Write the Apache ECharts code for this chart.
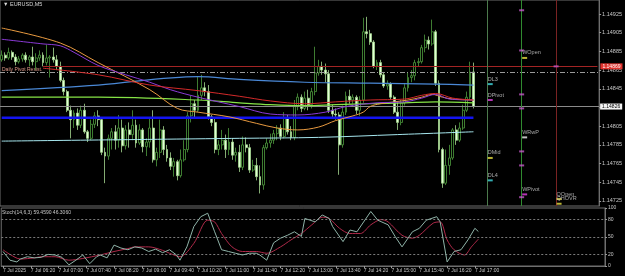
<!DOCTYPE html>
<html><head><meta charset="utf-8">
<script src="https://cdn.jsdelivr.net/npm/echarts@6/dist/echarts.min.js"></script>
<style>html,body{margin:0;padding:0;background:#000;}#c{width:625px;height:276px;}</style>
</head><body><div id="c"></div>
<script>
// ---------- data ----------
const symbolTitle = '\u25BC EURUSD,M5';
const dateLabel = '7 Jul 2025';
const firstBarMinutes = 5 * 60 + 40;   // 05:40
const barMinutes = 5;
const slotCount = 174;                 // bars + empty shift area
const priceTicks = [1.14725,1.14745,1.14765,1.14785,1.14805,1.14825,1.14845,1.14865,1.14885,1.14905,1.14925];
const stochTicks = [0,20,50,80,100];
const stochLevels = [20,50,80];
const stochTitle = 'Stoch(14,6,3) 59.4590 46.3060';
const bidPrice = 1.14826;
const linePrice = 1.14869;  const lineStartBar = 12;
const dashPrice = 1.14863;
const leftLineLabel = 'Daily Pivot Resist.';

// [open, close, low, high]
const candles = [
[1.14876,1.14881,1.14874,1.14886],[1.14881,1.14878,1.14875,1.14884],[1.14878,1.14884,1.14876,1.14889],[1.14884,1.14879,1.14876,1.14886],
[1.14879,1.14874,1.14870,1.14882],[1.14874,1.14877,1.14872,1.14880],[1.14877,1.14881,1.14874,1.14883],[1.14881,1.14876,1.14873,1.14884],
[1.14876,1.14879,1.14869,1.14881],[1.14879,1.14874,1.14870,1.14890],[1.14874,1.14878,1.14865,1.14883],[1.14878,1.14881,1.14875,1.14886],
[1.14881,1.14873,1.14869,1.14884],[1.14873,1.14878,1.14870,1.14892],[1.14878,1.14879,1.14857,1.14881],[1.14879,1.14876,1.14873,1.14889],
[1.14876,1.14869,1.14865,1.14881],[1.14869,1.14854,1.14852,1.14874],[1.14854,1.14842,1.14838,1.14857],[1.14842,1.14822,1.14820,1.14844],
[1.14822,1.14812,1.14792,1.14827],[1.14812,1.14819,1.14803,1.14822],[1.14819,1.14806,1.14801,1.14824],[1.14806,1.14822,1.14803,1.14827],
[1.14822,1.14799,1.14797,1.14829],[1.14799,1.14792,1.14788,1.14801],[1.14792,1.14807,1.14790,1.14812],[1.14807,1.14816,1.14803,1.14820],
[1.14816,1.14812,1.14805,1.14822],[1.14812,1.14777,1.14774,1.14814],[1.14777,1.14773,1.14744,1.14782],[1.14773,1.14792,1.14769,1.14796],
[1.14792,1.14799,1.14780,1.14803],[1.14799,1.14790,1.14780,1.14806],[1.14790,1.14803,1.14782,1.14817],[1.14803,1.14784,1.14777,1.14812],
[1.14784,1.14801,1.14780,1.14806],[1.14801,1.14796,1.14782,1.14809],[1.14796,1.14806,1.14790,1.14822],[1.14806,1.14787,1.14782,1.14812],
[1.14787,1.14801,1.14785,1.14807],[1.14801,1.14783,1.14777,1.14803],[1.14783,1.14788,1.14773,1.14792],[1.14788,1.14803,1.14782,1.14814],
[1.14803,1.14769,1.14766,1.14822],[1.14769,1.14777,1.14762,1.14782],[1.14777,1.14801,1.14771,1.14812],[1.14801,1.14780,1.14774,1.14805],
[1.14780,1.14771,1.14767,1.14785],[1.14771,1.14762,1.14758,1.14777],[1.14762,1.14767,1.14751,1.14771],[1.14767,1.14752,1.14747,1.14769],
[1.14752,1.14769,1.14750,1.14780],[1.14769,1.14780,1.14767,1.14790],[1.14780,1.14816,1.14777,1.14820],[1.14816,1.14829,1.14809,1.14838],
[1.14829,1.14822,1.14814,1.14833],[1.14822,1.14838,1.14820,1.14858],[1.14838,1.14846,1.14833,1.14860],[1.14846,1.14842,1.14837,1.14852],
[1.14842,1.14815,1.14812,1.14849],[1.14815,1.14809,1.14805,1.14817],[1.14809,1.14780,1.14776,1.14814],[1.14780,1.14785,1.14774,1.14790],
[1.14785,1.14790,1.14780,1.14801],[1.14790,1.14780,1.14771,1.14796],[1.14780,1.14788,1.14774,1.14803],[1.14788,1.14774,1.14769,1.14792],
[1.14774,1.14777,1.14767,1.14782],[1.14777,1.14761,1.14756,1.14785],[1.14761,1.14785,1.14758,1.14794],[1.14785,1.14782,1.14777,1.14793],
[1.14782,1.14758,1.14755,1.14786],[1.14758,1.14763,1.14756,1.14769],[1.14763,1.14751,1.14747,1.14771],[1.14751,1.14742,1.14733,1.14763],
[1.14742,1.14782,1.14737,1.14785],[1.14782,1.14787,1.14780,1.14792],[1.14787,1.14790,1.14782,1.14797],[1.14790,1.14797,1.14786,1.14801],
[1.14797,1.14803,1.14790,1.14806],[1.14803,1.14794,1.14790,1.14807],[1.14794,1.14814,1.14792,1.14820],[1.14814,1.14799,1.14796,1.14817],
[1.14799,1.14793,1.14790,1.14805],[1.14793,1.14826,1.14790,1.14833],[1.14826,1.14836,1.14822,1.14840],[1.14836,1.14824,1.14820,1.14839],
[1.14824,1.14835,1.14822,1.14842],[1.14835,1.14828,1.14822,1.14844],[1.14828,1.14842,1.14824,1.14846],[1.14842,1.14862,1.14838,1.14890],
[1.14862,1.14869,1.14859,1.14876],[1.14869,1.14865,1.14860,1.14874],[1.14865,1.14861,1.14852,1.14872],[1.14861,1.14822,1.14819,1.14865],
[1.14822,1.14818,1.14814,1.14828],[1.14818,1.14817,1.14812,1.14824],[1.14817,1.14785,1.14753,1.14820],[1.14785,1.14820,1.14782,1.14827],
[1.14820,1.14837,1.14817,1.14842],[1.14837,1.14833,1.14829,1.14844],[1.14833,1.14836,1.14829,1.14839],[1.14836,1.14822,1.14818,1.14838],
[1.14822,1.14833,1.14816,1.14837],[1.14833,1.14906,1.14830,1.14921],[1.14906,1.14904,1.14899,1.14922],[1.14904,1.14895,1.14892,1.14908],
[1.14895,1.14869,1.14867,1.14897],[1.14869,1.14873,1.14865,1.14876],[1.14873,1.14860,1.14857,1.14876],[1.14860,1.14848,1.14846,1.14863],
[1.14848,1.14850,1.14844,1.14854],[1.14850,1.14836,1.14833,1.14852],[1.14836,1.14820,1.14818,1.14838],[1.14820,1.14809,1.14801,1.14831],
[1.14809,1.14830,1.14806,1.14833],[1.14830,1.14846,1.14827,1.14850],[1.14846,1.14857,1.14842,1.14863],[1.14857,1.14859,1.14852,1.14865],
[1.14859,1.14873,1.14854,1.14876],[1.14873,1.14874,1.14869,1.14878],[1.14874,1.14889,1.14872,1.14892],[1.14889,1.14897,1.14884,1.14903],
[1.14897,1.14893,1.14887,1.14901],[1.14893,1.14906,1.14891,1.14919],[1.14906,1.14851,1.14848,1.14908],[1.14851,1.14780,1.14777,1.14854],
[1.14780,1.14744,1.14739,1.14782],[1.14744,1.14763,1.14742,1.14780],[1.14763,1.14771,1.14753,1.14785],[1.14771,1.14801,1.14769,1.14803],
[1.14801,1.14790,1.14785,1.14806],[1.14790,1.14803,1.14788,1.14809],[1.14803,1.14822,1.14801,1.14828],[1.14822,1.14836,1.14820,1.14842],
[1.14836,1.14863,1.14833,1.14874],[1.14863,1.14826,1.14824,1.14873]
];

// moving-average style lines: [bar index, price]
const maOrange = [[0,1.14910],[17,1.14894],[28,1.14873],[43,1.14844],[51,1.14824],[57,1.14820],[66,1.14815],[74,1.14808],[80,1.14803],[86,1.14801],[92,1.14804],[97,1.14811],[102,1.14816],[105,1.14820],[107,1.14826],[110,1.14829],[114,1.14831],[118,1.14833],[122,1.14836],[125,1.14839],[128,1.14836],[131,1.14834],[137,1.14833]];
const maPurple = [[0,1.14898],[12,1.14893],[17,1.14891],[21,1.14884],[28,1.14870],[36,1.14860],[43,1.14852],[49,1.14844],[57,1.14836],[69,1.14826],[78,1.14818],[86,1.14817],[94,1.14820],[100,1.14826],[109,1.14830],[117,1.14831],[122,1.14835],[126,1.14839],[130,1.14834],[137,1.14833]];
const maRed = [[12,1.14867],[28,1.14860],[43,1.14849],[57,1.14843],[69,1.14837],[78,1.14832],[88,1.14829],[97,1.14831],[107,1.14833],[117,1.14834],[122,1.14838],[126,1.14840],[131,1.14835],[137,1.14833]];
const maSteel = [[0,1.14843],[28,1.14849],[57,1.14858],[69,1.14855],[88,1.14852],[107,1.14851],[126,1.14850],[137,1.14849]];
const maGreen = [[0,1.14836],[28,1.14836],[57,1.14833],[69,1.14830],[78,1.14828],[88,1.14827],[97,1.14828],[107,1.14829],[117,1.14830],[126,1.14831],[137,1.14830]];
const maBlue = [[0,1.14814],[137,1.14814]];
const maCyan = [[0,1.14789],[69,1.14792],[92,1.14793],[115,1.14796],[137,1.14799]];

// pivot level annotations
const levelNames  = ['DL3','DPivot','DMid','DL4','WOpen','WRwP','WPivot','QOpen','QHOVR'];
const levelSlots  = [141,141,141,141,151,151,151,161,161];
const levelPrices = [1.14850,1.14833,1.14771,1.14747,1.14878,1.14793,1.14732,1.14727,1.14722];
const levelKinds  = ['L','P','M','L','M','W','P','M','M'];
const tickMarkSlots  = [151,151,151,151,151,151,151,161];
const tickMarkPrices = [1.14929,1.14886,1.14839,1.14824,1.14778,1.14763,1.14729,1.14869];
const vLineSlots = [141,151,161];

// stochastic: [bar index, value]
const stochMain = [[0,25],[2,10],[4,7],[5,12],[7,16],[9,14],[11,15],[13,20],[15,19],[17,15],[19,2],[21,10],[23,19],[25,4],[27,16],[28,19],[30,14],[32,36],[34,31],[36,28],[38,33],[40,31],[42,25],[44,29],[46,23],[48,28],[50,19],[51,10],[53,33],[55,68],[57,85],[59,91],[61,59],[63,28],[65,25],[67,22],[69,19],[71,22],[73,22],[74,19],[76,10],[78,40],[80,48],[82,53],[84,59],[86,51],[87,82],[90,76],[92,88],[94,82],[95,68],[98,42],[100,62],[102,59],[106,94],[108,79],[111,71],[113,51],[115,33],[118,59],[120,65],[122,79],[125,85],[126,76],[128,7],[130,25],[132,28],[134,45],[136,65],[137,59.459]];
const stochSignal = [[0,28],[2,20],[5,12],[9,14],[11,16],[15,16],[19,10],[23,13],[28,19],[32,25],[36,30],[38,33],[42,33],[46,27],[48,22],[51,16],[55,39],[59,79],[61,76],[63,56],[66,33],[69,25],[73,25],[76,22],[80,33],[83,45],[86,56],[89,71],[92,84],[94,82],[97,65],[100,56],[103,56],[106,71],[109,80],[111,76],[115,53],[118,48],[120,53],[124,74],[126,76],[128,45],[130,28],[133,19],[135,33],[137,46.306]];

// ---------- build ----------
const pad = n => (n < 10 ? '0' : '') + n;
const categories = [];
for (let i = 0; i < slotCount; i++) {
  const m = firstBarMinutes + barMinutes * i;
  categories.push(pad(Math.floor(m / 60)) + ':' + pad(m % 60));
}
const lastLabelBar = candles.length - 2;
const showLabel = idx => idx % 8 === 0 && idx <= lastLabelBar;
const FONT = 'Liberation Sans';
const TXT = '#c8c8c8';
const kindColor = {L:'#40d8e0', P:'#e040e0', M:'#e8e040', W:'#f0f0f0'};

const chart = echarts.init(document.getElementById('c'), null, {renderer:'canvas'});
const mainTop = 0, mainH = 206, subTop = 208, subH = 58, plotW = 605;

function maSeries(data, color, width) {
  return {type:'line', xAxisIndex:0, yAxisIndex:0, data, smooth:0.35, symbol:'none',
    lineStyle:{color, width: width || 1}, z:5, silent:true};
}

const option = {
  backgroundColor:'#000',
  animation:false,
  textStyle:{fontFamily:FONT},
  grid:[
    {left:0, top:mainTop, width:plotW, height:mainH, show:true, borderColor:'#6e6e6e', borderWidth:1},
    {left:0, top:subTop, width:plotW, height:subH, show:true, borderColor:'#6e6e6e', borderWidth:1}
  ],
  graphic:[
    {type:'text', left:3, top:1, style:{text:symbolTitle, fill:'#d8d8d8', font:'5.5px '+FONT}},
    {type:'text', left:2, top:67, style:{text:leftLineLabel, fill:'#e09a8a', font:'5px '+FONT}},
    {type:'text', left:2, top:210, style:{text:stochTitle, fill:TXT, font:'5px '+FONT}}
  ],
  xAxis:[
    {type:'category', gridIndex:0, data:categories, boundaryGap:true,
      axisLine:{show:false}, axisTick:{show:false}, axisLabel:{show:false}, splitLine:{show:false}},
    {type:'category', gridIndex:1, data:categories, boundaryGap:true,
      axisLine:{show:true, lineStyle:{color:'#6e6e6e'}},
      axisTick:{show:true, interval:(i)=>showLabel(i), alignWithLabel:true, length:2, lineStyle:{color:'#9a9a9a'}},
      axisLabel:{show:true, interval:(i)=>showLabel(i), color:TXT, fontSize:5, margin:2, align:'left',
        formatter:(v, idx)=> idx === 0 ? dateLabel : '7 Jul ' + v},
      splitLine:{show:false}}
  ],
  yAxis:[
    {type:'value', gridIndex:0, position:'right', min:1.1471958, max:1.1494, scale:true,
      axisLine:{show:true, lineStyle:{color:'#6e6e6e'}},
      axisTick:{show:true, length:2, customValues:priceTicks, lineStyle:{color:'#9a9a9a'}},
      axisLabel:{show:true, customValues:priceTicks, color:TXT, fontSize:5.5, margin:3, formatter:v=>v.toFixed(5)},
      splitLine:{show:false}},
    {type:'value', gridIndex:1, position:'right', min:0, max:100,
      axisLine:{show:true, lineStyle:{color:'#6e6e6e'}},
      axisTick:{show:true, length:2, customValues:stochTicks, lineStyle:{color:'#9a9a9a'}},
      axisLabel:{show:true, customValues:stochTicks, color:TXT, fontSize:5, margin:3},
      splitLine:{show:false}}
  ],
  series:[
    {type:'candlestick', xAxisIndex:0, yAxisIndex:0, data:candles, barWidth:2.4, clip:false, z:3,
      itemStyle:{color:'#000000', color0:'#e2ffd6', borderColor:'#4e9c3e', borderColor0:'#a6d890', borderWidth:0.8},
      markLine:{silent:true, symbol:['none','none'], animation:false, precision:5,
        data:[
          {yAxis:bidPrice, lineStyle:{color:'#8a8a8a', width:1, type:'solid'},
            label:{show:true, position:'end', distance:1, formatter:bidPrice.toFixed(5), color:'#000', backgroundColor:'#f4f4f4', padding:[1,2,0,2], fontSize:5}},
          {yAxis:dashPrice, lineStyle:{color:'#9a9a9a', width:1, type:[5,2,1,2]}, label:{show:false}},
          [{coord:[lineStartBar, linePrice], lineStyle:{color:'#a32424', width:1, type:'solid'},
             label:{show:true, position:'end', distance:3, formatter:linePrice.toFixed(5), color:'#fff', backgroundColor:'#e0332e', padding:[1,2,0,2], fontSize:5}},
           {coord:[slotCount-1, linePrice]}],
          {xAxis:categories[vLineSlots[0]], lineStyle:{color:'#4c7a4c', width:1, type:'solid'}, label:{show:false}},
          {xAxis:categories[vLineSlots[1]], lineStyle:{color:'#2f8a2f', width:1, type:'solid'}, label:{show:false}},
          {xAxis:categories[vLineSlots[2]], lineStyle:{color:'#7a2222', width:1, type:'solid'}, label:{show:false}}
        ]}},
    maSeries(maCyan, '#a6e6ee', 1),
    maSeries(maBlue, '#1414f0', 2.5),
    maSeries(maSteel, '#4a88d6', 1.2),
    maSeries(maGreen, '#86e446', 1.2),
    maSeries(maOrange, '#e89a40', 1),
    maSeries(maPurple, '#8a3ad6', 1),
    maSeries(maRed, '#d42a2a', 1),
    {type:'scatter', xAxisIndex:0, yAxisIndex:0, z:6, silent:true,
      data: levelNames.map((n,k)=>({value:[levelSlots[k], levelPrices[k]], name:n,
        itemStyle:{color:kindColor[levelKinds[k]]}})),
      symbol:'rect', symbolSize:[5,2], symbolOffset:[3,0],
      label:{show:true, formatter:p=>p.name, position:[0,-7], align:'left', color:'#d0d0d0', fontSize:5.5}},
    {type:'scatter', xAxisIndex:0, yAxisIndex:0, z:6, silent:true,
      data: tickMarkSlots.map((s,k)=>[s, tickMarkPrices[k]]),
      symbol:'rect', symbolSize:[5,2], itemStyle:{color:'#c458c8'}},
    {type:'line', xAxisIndex:1, yAxisIndex:1, data:stochMain, symbol:'none', lineStyle:{color:'#8fb3a8', width:1}, z:5,
      markLine:{silent:true, symbol:['none','none'], label:{show:false}, lineStyle:{color:'#7a7a7a', type:[2,2], width:1},
        data: stochLevels.map(v=>({yAxis:v}))}},
    {type:'line', xAxisIndex:1, yAxisIndex:1, data:stochSignal, symbol:'none', smooth:0.3, lineStyle:{color:'#b02a4a', width:1}, z:4}
  ]
};
chart.setOption(option);
</script>
</body></html>
